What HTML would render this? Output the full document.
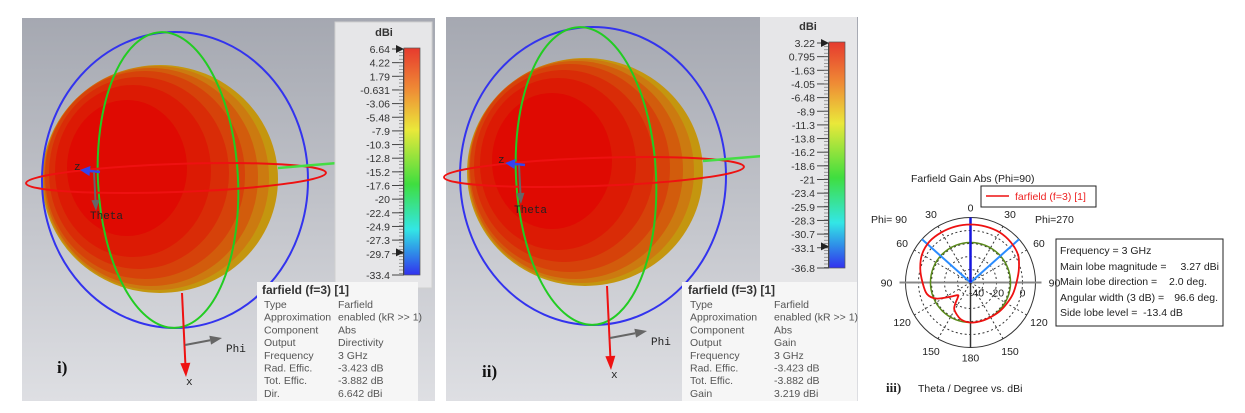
<!DOCTYPE html>
<html><head><meta charset="utf-8">
<style>
body{margin:0;background:#fff;width:1245px;height:413px;overflow:hidden;font-family:"Liberation Sans",sans-serif;}
svg{position:absolute;left:0;top:0;}
.tk{font-size:10.5px;fill:#333;text-anchor:end;font-family:"Liberation Sans",sans-serif;}
.inf{font-size:10.5px;fill:#555;font-family:"Liberation Sans",sans-serif;}
.pl{font-size:10.5px;fill:#222;font-family:"Liberation Sans",sans-serif;}
</style></head><body>
<svg id="main" width="1245" height="413" viewBox="0 0 1245 413">
<defs>
<linearGradient id="bg" x1="0" y1="0" x2="0" y2="1"><stop offset="0" stop-color="#a5a8b1"/><stop offset="1" stop-color="#dedfe3"/></linearGradient>
<linearGradient id="cb" x1="0" y1="0" x2="0" y2="1">
<stop offset="0" stop-color="#e63a2e"/><stop offset="0.18" stop-color="#ef8a35"/><stop offset="0.36" stop-color="#eae83a"/><stop offset="0.6" stop-color="#3fde3f"/><stop offset="0.8" stop-color="#33e6e6"/><stop offset="0.9" stop-color="#2f8ee8"/><stop offset="1" stop-color="#3232ee"/></linearGradient>
</defs>

<!-- Panel i -->
<g>
<rect x="22" y="18" width="413" height="383" fill="url(#bg)"/>
<g>
<ellipse cx="160" cy="179" rx="118" ry="114" fill="#c4960f"/>
<ellipse cx="156" cy="178" rx="113" ry="112" fill="#cc7a10"/>
<ellipse cx="151" cy="177" rx="107" ry="109" fill="#d25c0c"/>
<ellipse cx="145" cy="175" rx="100" ry="104" fill="#d6420a"/>
<ellipse cx="139" cy="173" rx="90" ry="96" fill="#d92c07"/>
<ellipse cx="133" cy="171" rx="78" ry="86" fill="#dc1a04"/>
<ellipse cx="127" cy="168" rx="60" ry="68" fill="#df0a02"/>
</g>
<ellipse cx="175" cy="180" rx="133" ry="148" fill="none" stroke="#3333ee" stroke-width="2"/>
<ellipse cx="168" cy="180" rx="70" ry="148" fill="none" stroke="#22cc22" stroke-width="2" transform="rotate(-3 168 180)"/>
<ellipse cx="176" cy="178" rx="150" ry="14" fill="none" stroke="#ee1111" stroke-width="2" transform="rotate(-2 176 178)"/>
<g id="arrows1"></g>
<text x="355" y="165" font-size="13" fill="#c8c8c8" font-family="Liberation Mono">y</text>
<text x="74" y="170" font-size="11" fill="#222" font-family="Liberation Mono">z</text>
<text x="90" y="219" font-size="11" fill="#222" font-family="Liberation Mono">Theta</text>
<text x="186" y="385" font-size="11" fill="#222" font-family="Liberation Mono">x</text>
<text x="226" y="352" font-size="11" fill="#222" font-family="Liberation Mono">Phi</text>
<text x="57" y="373" font-size="17" font-weight="bold" font-family="Liberation Serif" fill="#111">i)</text>
<rect x="335" y="22" width="97" height="266" fill="#e6e6e8" stroke="#d0d0d0"/>
<text x="384" y="36" font-size="11" font-weight="bold" fill="#333" text-anchor="middle">dBi</text>
<rect x="404" y="48" width="16" height="227" fill="url(#cb)" stroke="#555" stroke-width="0.7"/>
<g id="ticks1"></g>
<rect x="257" y="282" width="161" height="119" fill="#f6f6f6"/>
<g id="info1"></g>
</g>

<!-- Panel ii -->
<g>
<rect x="446" y="17" width="412" height="384" fill="url(#bg)"/>
<g>
<ellipse cx="585" cy="172" rx="118" ry="114" fill="#c4960f"/>
<ellipse cx="581" cy="171" rx="113" ry="112" fill="#cc7a10"/>
<ellipse cx="576" cy="170" rx="107" ry="109" fill="#d25c0c"/>
<ellipse cx="570" cy="168" rx="100" ry="104" fill="#d6420a"/>
<ellipse cx="564" cy="166" rx="90" ry="96" fill="#d92c07"/>
<ellipse cx="558" cy="164" rx="78" ry="86" fill="#dc1a04"/>
<ellipse cx="552" cy="161" rx="60" ry="68" fill="#df0a02"/>
</g>
<ellipse cx="593" cy="176" rx="133" ry="149" fill="none" stroke="#3333ee" stroke-width="2"/>
<ellipse cx="586" cy="176" rx="70" ry="149" fill="none" stroke="#22cc22" stroke-width="2" transform="rotate(-3 586 176)"/>
<ellipse cx="594" cy="172" rx="150" ry="14" fill="none" stroke="#ee1111" stroke-width="2" transform="rotate(-2 594 172)"/>
<g id="arrows2"></g>
<text x="780" y="159" font-size="13" fill="#c8c8c8" font-family="Liberation Mono">y</text>
<text x="498" y="163" font-size="11" fill="#222" font-family="Liberation Mono">z</text>
<text x="514" y="213" font-size="11" fill="#222" font-family="Liberation Mono">Theta</text>
<text x="611" y="378" font-size="11" fill="#222" font-family="Liberation Mono">x</text>
<text x="651" y="345" font-size="11" fill="#222" font-family="Liberation Mono">Phi</text>
<text x="482" y="377" font-size="17" font-weight="bold" font-family="Liberation Serif" fill="#111">ii)</text>
<rect x="760" y="17" width="97" height="266" fill="#e6e6e8"/>
<text x="808" y="30" font-size="11" font-weight="bold" fill="#333" text-anchor="middle">dBi</text>
<rect x="829" y="42" width="16" height="226" fill="url(#cb)" stroke="#555" stroke-width="0.7"/>
<g id="ticks2"></g>
<rect x="682" y="282" width="175" height="119" fill="#f6f6f6"/>
<g id="info2"></g>
</g>

<!-- Panel iii polar -->
<g id="polar">
<text x="911" y="182" class="pl">Farfield Gain Abs (Phi=90)</text>
<rect x="981" y="186" width="115" height="21" fill="#fff" stroke="#222"/>
<line x1="986" y1="196" x2="1009" y2="196" stroke="#ee1111" stroke-width="1.5"/>
<text x="1015" y="200" font-size="10.5" fill="#ee2222">farfield (f=3) [1]</text>
<text x="871" y="223" class="pl">Phi= 90</text>
<text x="1035" y="223" class="pl">Phi=270</text>
<rect x="1056" y="239" width="167" height="87" fill="#fff" stroke="#222"/>
<text x="1060" y="254" class="pl">Frequency = 3 GHz</text>
<text x="1060" y="270" class="pl">Main lobe magnitude =</text><text x="1219" y="270" class="pl" text-anchor="end">3.27 dBi</text>
<text x="1060" y="285" class="pl">Main lobe direction =</text><text x="1207" y="285" class="pl" text-anchor="end">2.0 deg.</text>
<text x="1060" y="301" class="pl">Angular width (3 dB) =</text><text x="1218" y="301" class="pl" text-anchor="end">96.6 deg.</text>
<text x="1060" y="316" class="pl">Side lobe level =&#160;&#160;-13.4 dB</text>
<text x="886" y="392" font-size="13" font-weight="bold" font-family="Liberation Serif" fill="#222">iii)</text>
<text x="918" y="392" class="pl">Theta / Degree vs. dBi</text>
<g id="pg"></g>
</g>
</svg>
<script>
const NS="http://www.w3.org/2000/svg";
function mk(tag,attrs,parent,txt){const e=document.createElementNS(NS,tag);for(const k in attrs)e.setAttribute(k,attrs[k]);if(txt!==undefined)e.textContent=txt;parent.appendChild(e);return e;}

function arrow(g,x1,y1,x2,y2,col,headCol,w,hl,hw){
  const dx=x2-x1,dy=y2-y1,L=Math.hypot(dx,dy),ux=dx/L,uy=dy/L;
  const bx=x2-ux*hl,by=y2-uy*hl;
  mk('line',{x1:x1,y1:y1,x2:bx,y2:by,stroke:col,'stroke-width':w},g);
  mk('polygon',{points:`${x2},${y2} ${bx-uy*hw},${by+ux*hw} ${bx+uy*hw},${by-ux*hw}`,fill:headCol},g);
}
function axes(g,ox,oy){
  arrow(g,ox+278,oy+168,ox+350,oy+162,'#44dd44','#99ee99',2.5,14,5);
  arrow(g,ox+100,oy+172,ox+80,oy+170,'#3344ee','#3344ee',2.5,10,5);
  arrow(g,ox+94,oy+172,ox+96,oy+211,'#666','#666',2,11,4);
  arrow(g,ox+182,oy+293,ox+186,oy+377,'#ee1111','#ee1111',2,14,5);
  arrow(g,ox+185,oy+345,ox+222,oy+338,'#666','#666',2,12,4.5);
}
axes(document.getElementById('arrows1'),0,0);
axes(document.getElementById('arrows2'),425,-7);

const ticks1=["6.64","4.22","1.79","-0.631","-3.06","-5.48","-7.9","-10.3","-12.8","-15.2","-17.6","-20","-22.4","-24.9","-27.3","-29.7"];
const ticksEnd1="-33.4";
const ticks2=["3.22","0.795","-1.63","-4.05","-6.48","-8.9","-11.3","-13.8","-16.2","-18.6","-21","-23.4","-25.9","-28.3","-30.7","-33.1"];
const ticksEnd2="-36.8";
const infoKeys=["Type","Approximation","Component","Output","Frequency","Rad. Effic.","Tot. Effic."];
const infoVals1=["Farfield","enabled (kR >> 1)","Abs","Directivity","3 GHz","-3.423 dB","-3.882 dB"];
const infoVals2=["Farfield","enabled (kR >> 1)","Abs","Gain","3 GHz","-3.423 dB","-3.882 dB"];
const lastKey1="Dir.", lastVal1="6.642 dBi", lastKey2="Gain", lastVal2="3.219 dBi";

function colorbar(g,ticks,endT,x,y0,y1){
  const step=13.65;
  ticks.forEach((t,i)=>{const y=y0+i*step;
    const l=mk('line',{x1:x-12,y1:y,x2:x,y2:y,stroke:'#444','stroke-width':1},g);
    
    
    const tx=mk('text',{x:x-14,y:y+4,class:'tk'},g,t);
    
    
  });
  for(let y=y0;y<=y1;y+=3.4){mk('line',{x1:x-5,y1:y,x2:x,y2:y,stroke:'#666','stroke-width':0.6},g);}
  mk('line',{x1:x-12,y1:y1,x2:x,y2:y1,stroke:'#444'},g);
  mk('text',{x:x-14,y:y1+4,class:'tk'},g,endT);
  mk('line',{x1:x-0.5,y1:y0,x2:x-0.5,y2:y1,stroke:'#444'},g);
  mk('path',{d:`M${x-8},${y0-4}l8,4l-8,4z`,fill:'#222'},g);
  mk('path',{d:`M${x-8},${y0+14.9*step-4}l8,4l-8,4z`,fill:'#222'},g);
}
colorbar(document.getElementById('ticks1'),ticks1,ticksEnd1,404,49,275);
colorbar(document.getElementById('ticks2'),ticks2,ticksEnd2,829,43,268);

function info(g,x1,x2,vals,lk,lv){
  mk('text',{x:x1-2,y:294,'font-size':'12',fill:'#333','font-weight':'bold'},g,'farfield (f=3) [1]');
  infoKeys.forEach((k,i)=>{const y=308+i*12.7;
    mk('text',{x:x1,y:y,class:'inf'},g,k);mk('text',{x:x2,y:y,class:'inf'},g,vals[i]);});
  mk('text',{x:x1,y:308+7*12.7,class:'inf'},g,lk);mk('text',{x:x2,y:308+7*12.7,class:'inf'},g,lv);
}
info(document.getElementById('info1'),264,338,infoVals1,lastKey1,lastVal1);
info(document.getElementById('info2'),690,774,infoVals2,lastKey2,lastVal2);

// polar data (theta in deg, negative = Phi=90 side; gain in dBi)
const thetas=[-180,-165,-150,-145,-140,-135,-125,-115,-105,-90,-75,-60,-45,-30,-15,0,15,30,45,60,75,90,105,120,135,150,165];
const gains=[-9.2,-10.8,-15.4,-19.2,-24.6,-26.2,-20.8,-10.8,-5.4,-3.1,0,3.1,4.6,4.6,4.6,4.6,4.6,4.6,3.8,2.3,-1.5,-4.6,-6.2,-7.7,-8.5,-9.2,-9.2];
const rings=[-30,-20,-10,0];
const ringLabels=["-40","-20","0"];
const ringLabelVals=[-40,-20,0];
const angleLabels=[0,30,60,90,120,150,180];
const mainLobeDir=2.0, angularWidth=96.6, halfPowerRingDb=-9.2;
const rMin=-40, rMax=10;

const cx=970.5, cy=282.5, R=65;
const rs=d=>(d-rMin)/(rMax-rMin)*R;
const px=(th,d)=>[cx+rs(d)*Math.sin(th*Math.PI/180), cy-rs(d)*Math.cos(th*Math.PI/180)];
const pg=document.getElementById('pg');
let e;
rings.forEach(v=>{e=mk('circle',{cx:cx,cy:cy,r:rs(v),fill:'none',stroke:'#333','stroke-width':1,'stroke-dasharray':'2,2.5'},pg);
  
  });
for(let a=0;a<360;a+=30){ if(a%90===0)continue; const p=px(a,rMax);
  mk('line',{x1:cx,y1:cy,x2:p[0],y2:p[1],stroke:'#333','stroke-dasharray':'2,2.5'},pg);}
e=mk('circle',{cx:cx,cy:cy,r:R,fill:'none',stroke:'#333','stroke-width':1},pg);


mk('line',{x1:cx-R-6,y1:cy,x2:cx+R+6,y2:cy,stroke:'#888','stroke-width':2},pg);
mk('line',{x1:cx,y1:cy,x2:cx,y2:cy+R,stroke:'#333','stroke-width':1.5},pg);
e=mk('circle',{cx:cx,cy:cy,r:rs(halfPowerRingDb),fill:'none',stroke:'#5a8a1a','stroke-width':1.5},pg);


[-angularWidth/2,angularWidth/2].forEach(a=>{const p=px(a,rMax);
  e=mk('line',{x1:cx,y1:cy,x2:p[0],y2:p[1],stroke:'#2b8cff','stroke-width':2},pg);
  
  });
{const p=px(0,rMax);
 e=mk('line',{x1:cx,y1:cy,x2:p[0],y2:p[1],stroke:'#1515dd','stroke-width':2.5},pg);
 
 }
const pts=thetas.map((t,i)=>px(t,gains[i]));
let d=`M${pts[0][0]},${pts[0][1]}`;const n=pts.length;
for(let i=0;i<n;i++){const p0=pts[(i-1+n)%n],p1=pts[i],p2=pts[(i+1)%n],p3=pts[(i+2)%n];
  d+=`C${p1[0]+(p2[0]-p0[0])/6},${p1[1]+(p2[1]-p0[1])/6} ${p2[0]-(p3[0]-p1[0])/6},${p2[1]-(p3[1]-p1[1])/6} ${p2[0]},${p2[1]}`;}
e=mk('path',{d:d,fill:'none',stroke:'#ee1111','stroke-width':1.8},pg);


ringLabels.forEach((l,i)=>{const x=cx+rs(ringLabelVals[i])+(i===0?6:0);
  e=mk('text',{x:x,y:cy+14,class:'pl','text-anchor':'middle'},pg,l);
  
  });
angleLabels.forEach(a=>{[1,-1].forEach(s=>{ if((a===0||a===180)&&s<0)return;
  const rr=R+(a===0||a===180?10:(a===90?19:14));
  const th=s*a*Math.PI/180;const x=cx+rr*Math.sin(th), y=cy-rr*Math.cos(th)+4;
  e=mk('text',{x:x,y:y,class:'pl','text-anchor':'middle'},pg,String(a));
  
  });});
</script>
</body></html>
